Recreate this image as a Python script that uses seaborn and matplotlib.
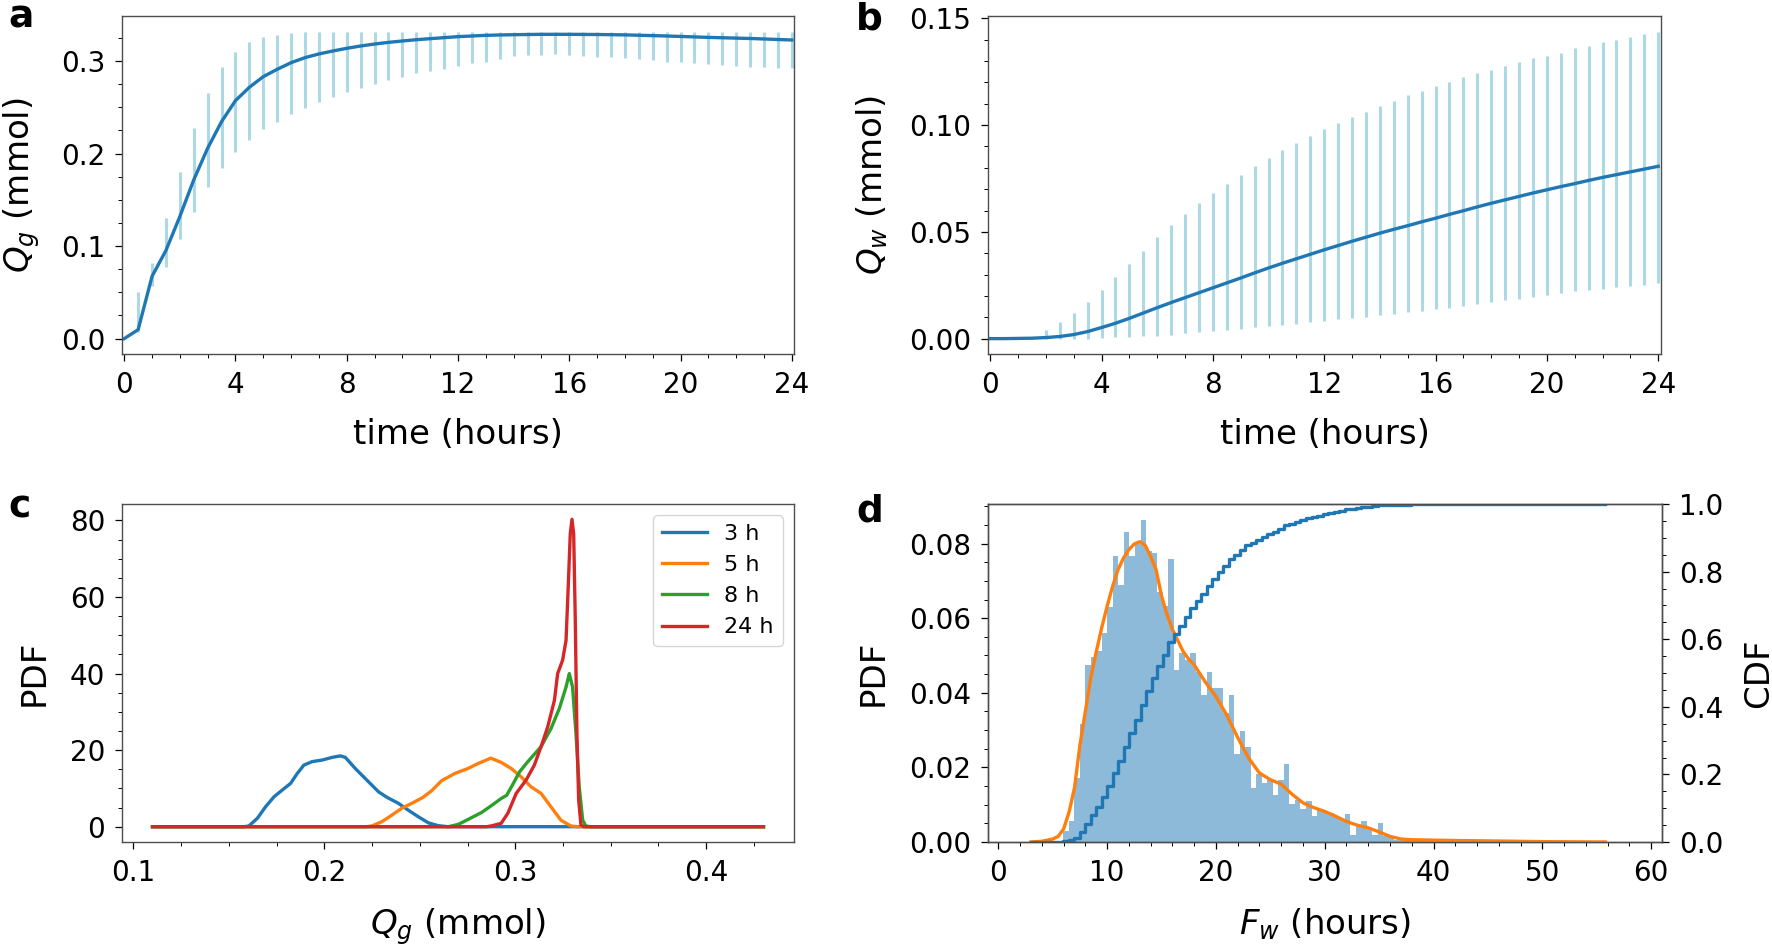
import numpy as np
import pandas as pd
import matplotlib
matplotlib.use("Agg")
import matplotlib.pyplot as plt
from matplotlib.ticker import MultipleLocator
import seaborn as sns

# ---------------- Panel a : Q_g vs time ----------------
time_a = [0, 0.5, 1, 1.5, 2, 2.5, 3, 3.5, 4, 4.5, 5, 5.5, 6, 6.5, 7, 7.5, 8, 8.5,
          9, 9.5, 10, 10.5, 11, 11.5, 12, 12.5, 13, 13.5, 14, 14.5, 15, 15.5, 16,
          16.5, 17, 17.5, 18, 18.5, 19, 19.5, 20, 20.5, 21, 21.5, 22, 22.5, 23,
          23.5, 24]
qg_mean = [0.0, 0.0097, 0.0673, 0.0953, 0.132, 0.1716, 0.2058, 0.2345, 0.2572,
           0.2716, 0.2831, 0.291, 0.2982, 0.3036, 0.3076, 0.3108, 0.3137, 0.3162,
           0.3183, 0.3201, 0.3216, 0.323, 0.3241, 0.3252, 0.3263, 0.327, 0.3277,
           0.3281, 0.3284, 0.3286, 0.3288, 0.3288, 0.3288, 0.3287, 0.3286, 0.3284,
           0.3282, 0.3278, 0.3274, 0.327, 0.3265, 0.326, 0.3255, 0.3251, 0.3247,
           0.3243, 0.3238, 0.3232, 0.3227]
err_time = time_a[1:]
qg_lo = [0.0068, 0.0565, 0.0773, 0.1076, 0.1367, 0.1633, 0.1845, 0.2018, 0.2151,
         0.2263, 0.2345, 0.2424, 0.2493, 0.2558, 0.2608, 0.2662, 0.2705, 0.2752,
         0.2795, 0.2831, 0.2867, 0.2892, 0.2917, 0.2946, 0.2975, 0.2993, 0.302,
         0.3055, 0.3063, 0.3066, 0.3075, 0.307, 0.3054, 0.3047, 0.304, 0.3029,
         0.3018, 0.3011, 0.2993, 0.2986, 0.2975, 0.2968, 0.2957, 0.295, 0.2939,
         0.2932, 0.2921, 0.2921]
qg_hi = [0.05, 0.0817, 0.1302, 0.1799, 0.228, 0.2658, 0.2932, 0.3097, 0.3201,
         0.3255, 0.3284, 0.3302, 0.3309, 0.331, 0.331, 0.331, 0.331, 0.331,
         0.331, 0.331, 0.3315, 0.3315, 0.3315, 0.3315, 0.3315, 0.3315, 0.3315,
         0.3315, 0.3315, 0.3315, 0.3315, 0.3315, 0.3315, 0.3315, 0.3315, 0.3315,
         0.331, 0.331, 0.331, 0.331, 0.331, 0.331, 0.331, 0.331, 0.331, 0.331,
         0.331, 0.331]

# ---------------- Panel b : Q_w vs time ----------------
qw_mean = [0.0, 0.0, 0.0001, 0.0002, 0.0005, 0.001, 0.0019, 0.0033, 0.0052, 0.0072,
           0.0095, 0.012, 0.0145, 0.0169, 0.0192, 0.0215, 0.0238, 0.0261, 0.0284,
           0.0308, 0.0331, 0.0353, 0.0374, 0.0395, 0.0416, 0.0436, 0.0456, 0.0475,
           0.0494, 0.0512, 0.0529, 0.0547, 0.0564, 0.0582, 0.0599, 0.0617, 0.0634,
           0.065, 0.0666, 0.0682, 0.0697, 0.0712, 0.0726, 0.0741, 0.0755, 0.0768,
           0.0781, 0.0794, 0.0807]
qw_lo = [0.0, 0.0, 0.0, 0.0, 0.0, 0.0, 0.0, 0.0003, 0.0006, 0.0008, 0.001, 0.0014,
         0.0019, 0.0027, 0.003, 0.0034, 0.0041, 0.0047, 0.0053, 0.0058, 0.0064,
         0.007, 0.0076, 0.0084, 0.009, 0.0097, 0.0103, 0.0109, 0.0115, 0.0123,
         0.0129, 0.0137, 0.0144, 0.0151, 0.0161, 0.017, 0.0179, 0.0187, 0.0195,
         0.0203, 0.0212, 0.0222, 0.0228, 0.0234, 0.024, 0.0246, 0.0253, 0.0261]
qw_hi = [0.0, 0.0002, 0.0005, 0.0042, 0.0078, 0.0119, 0.017, 0.0226, 0.0289,
         0.0351, 0.0412, 0.0474, 0.053, 0.0585, 0.0633, 0.068, 0.0725, 0.0768,
         0.081, 0.0846, 0.0883, 0.0917, 0.0947, 0.0981, 0.1009, 0.1036, 0.1061,
         0.1089, 0.1111, 0.1139, 0.1158, 0.1181, 0.12, 0.1223, 0.1242, 0.1259,
         0.1278, 0.1295, 0.1312, 0.1326, 0.134, 0.1359, 0.1371, 0.1387, 0.1399,
         0.1413, 0.1426, 0.1438]

# ---------------- Panel c : PDFs of Q_g at several times ----------------
pdf_labels = ["3 h", "5 h", "8 h", "24 h"]
pdf3_x = [0.11, 0.158, 0.1605, 0.1649, 0.1692, 0.1736, 0.178, 0.1823, 0.1858, 0.1893,
          0.1936, 0.1988, 0.204, 0.2084, 0.211, 0.2162, 0.2232, 0.2284, 0.2327,
          0.2388, 0.244, 0.2492, 0.2545, 0.2597, 0.2649, 0.43]
pdf3_y = [0, 0, 0.2, 2.2, 5.2, 7.8, 9.6, 11.3, 13.9, 16.1, 17.0, 17.4, 18.1, 18.5,
          18.1, 15.2, 11.7, 9.1, 7.7, 6.1, 4.3, 2.6, 1.0, 0.26, 0, 0]
pdf5_x = [0.11, 0.222, 0.2249, 0.2301, 0.2353, 0.2405, 0.2458, 0.2518, 0.2562, 0.2614,
          0.2683, 0.2752, 0.2805, 0.2872, 0.2926, 0.2979, 0.3031, 0.3083, 0.3135,
          0.3187, 0.3239, 0.3292, 0.3327, 0.43]
pdf5_y = [0, 0, 0.2, 1.3, 3.0, 4.8, 6.1, 7.7, 9.4, 12.0, 13.9, 15.2, 16.5, 17.9, 16.8,
          15.2, 13.0, 10.4, 8.7, 5.2, 1.7, 0.17, 0, 0]
pdf8_x = [0.11, 0.265, 0.2701, 0.2753, 0.2823, 0.2875, 0.2927, 0.2955, 0.2992, 0.3022,
          0.3066, 0.3135, 0.3187, 0.3231, 0.3266, 0.3283, 0.33, 0.3318, 0.3335,
          0.3353, 0.337, 0.3396, 0.43]
pdf8_y = [0, 0, 0.6, 1.9, 3.7, 5.5, 7.4, 8.2, 11.5, 14.3, 17.0, 20.9, 25.6, 30.9, 36.5,
          40.0, 36.5, 24.3, 10.4, 1.7, 0.17, 0, 0]
pdf24_x = [0.11, 0.285, 0.2874, 0.2926, 0.2961, 0.3005, 0.3057, 0.31, 0.3135, 0.317,
           0.3205, 0.3222, 0.3248, 0.3266, 0.3278, 0.3288, 0.3297, 0.3306, 0.3314,
           0.3323, 0.3332, 0.3344, 0.3361, 0.43]
pdf24_y = [0, 0, 0.2, 0.87, 3.5, 8.7, 12.2, 16.1, 20.9, 26.1, 33.0, 40.0, 43.5, 48.7,
           63.5, 76.5, 80.3, 76.5, 54.8, 24.3, 7.0, 0.4, 0, 0]

# ---------------- Panel d : F_w histogram, KDE and CDF ----------------
hist_bin_start = 5.97
hist_bin_width = 0.507
hist_heights = [0.003, 0.0057, 0.0172, 0.0315, 0.0475, 0.0495, 0.0511, 0.056, 0.0629,
                0.0766, 0.069, 0.0831, 0.0766, 0.080, 0.0862, 0.078, 0.0775, 0.067,
                0.0632, 0.0759, 0.0462, 0.0507, 0.0489, 0.0507, 0.0456, 0.0395,
                0.0456, 0.0413, 0.0413, 0.0346, 0.0395, 0.0236, 0.0297, 0.0255,
                0.0145, 0.0181, 0.0158, 0.0167, 0.0127, 0.0167, 0.021, 0.0101,
                0.0113, 0.0088, 0.0109, 0.0069, 0.0087, 0.0082, 0.0078, 0.0069,
                0.006, 0.0075, 0.002, 0.0046, 0.0055, 0.0038, 0.002, 0.0051, 0.0015,
                0.0015, 0.0006, 0.0005, 0.0004, 0.0006, 0.0004, 0.0005, 0.0003,
                0.0004, 0.0003, 0.0002, 0.0003, 0.0002]
cdf_start, cdf_end = 3.0, 55.8
kde_x = [3.0, 4.0, 5.0, 5.5, 6.0, 6.5, 7.0, 7.5, 8.0, 8.5, 9.0, 9.5, 10.0, 10.5, 11.0,
         11.5, 12.0, 12.5, 13.0, 13.5, 14.0, 14.5, 15.0, 15.5, 16.0, 16.5, 17.0,
         17.5, 18.0, 19.0, 20.0, 21.0, 22.0, 23.0, 24.0, 25.0, 26.0, 27.0, 28.0,
         29.0, 30.0, 31.0, 32.0, 33.0, 34.0, 35.0, 36.0, 37.0, 38.0, 40.0, 42.0,
         45.0, 50.0, 55.8]
kde_y = [0.0, 0.0002, 0.0008, 0.0015, 0.0035, 0.008, 0.0145, 0.026, 0.035, 0.044,
         0.051, 0.0574, 0.0632, 0.0685, 0.073, 0.0761, 0.0784, 0.0799, 0.0805,
         0.0795, 0.0765, 0.073, 0.066, 0.061, 0.057, 0.054, 0.051, 0.049, 0.0475,
         0.043, 0.039, 0.034, 0.028, 0.0225, 0.0185, 0.0167, 0.0155, 0.0128,
         0.0105, 0.0092, 0.0082, 0.0069, 0.0055, 0.0045, 0.0038, 0.0027, 0.0015,
         0.0008, 0.0006, 0.0005, 0.0004, 0.0003, 0.0001, 0.0]

# ---------------- figure ----------------
TICK = 20
LAB = 24.5
C0, C1, C2, C3 = "#1f77b4", "#ff7f0e", "#2ca02c", "#d62728"

fig = plt.figure(figsize=(17.72, 9.48), dpi=100)
W, H = 1772.0, 948.0


def add_ax(l, r, t, b):
    return fig.add_axes([l / W, 1 - b / H, (r - l) / W, (b - t) / H])


def style(ax):
    ax.tick_params(axis="both", which="both", labelsize=TICK, direction="out")
    ax.tick_params(axis="both", which="major", length=5, width=0.9, pad=7)
    ax.tick_params(axis="both", which="minor", length=2.8, width=0.7)
    for s in ax.spines.values():
        s.set_color("0.3")
        s.set_linewidth(1.0)


# Panel a
axa = add_ax(122, 794, 16, 354)
axa.vlines(err_time, qg_lo, qg_hi, colors="lightblue", linewidth=2.2, zorder=1)
sns.lineplot(x=time_a, y=qg_mean, ax=axa, color=C0, linewidth=2.4, zorder=2)
axa.set_xlim(-0.08, 24.08)
axa.set_ylim(-0.0166, 0.3486)
axa.xaxis.set_major_locator(MultipleLocator(4))
axa.xaxis.set_minor_locator(MultipleLocator(1))
axa.yaxis.set_major_locator(MultipleLocator(0.1))
axa.yaxis.set_minor_locator(MultipleLocator(0.025))
axa.set_xlabel("time (hours)", fontsize=LAB, labelpad=14)
axa.set_ylabel("$Q_g$ (mmol)", fontsize=LAB, labelpad=14)
style(axa)

# Panel b
axb = add_ax(988, 1661, 16, 354)
axb.vlines(err_time, qw_lo, qw_hi, colors="lightblue", linewidth=2.2, zorder=1)
sns.lineplot(x=time_a, y=qw_mean, ax=axb, color=C0, linewidth=2.4, zorder=2)
axb.set_xlim(-0.08, 24.1)
axb.set_ylim(-0.0072, 0.1511)
axb.xaxis.set_major_locator(MultipleLocator(4))
axb.xaxis.set_minor_locator(MultipleLocator(1))
axb.yaxis.set_major_locator(MultipleLocator(0.05))
axb.yaxis.set_minor_locator(MultipleLocator(0.01))
axb.set_xlabel("time (hours)", fontsize=LAB, labelpad=14)
axb.set_ylabel("$Q_w$ (mmol)", fontsize=LAB, labelpad=14)
style(axb)

# Panel c
axc = add_ax(122, 794, 504, 842)
for xs, ys, lab, col in zip([pdf3_x, pdf5_x, pdf8_x, pdf24_x],
                            [pdf3_y, pdf5_y, pdf8_y, pdf24_y],
                            pdf_labels, [C0, C1, C2, C3]):
    sns.lineplot(x=xs, y=ys, ax=axc, color=col, linewidth=2.4, label=lab,
                 sort=False, estimator=None)
axc.set_xlim(0.094, 0.446)
axc.set_ylim(-4.0, 84.3)
axc.xaxis.set_major_locator(MultipleLocator(0.1))
axc.xaxis.set_minor_locator(MultipleLocator(0.025))
axc.yaxis.set_major_locator(MultipleLocator(20))
axc.yaxis.set_minor_locator(MultipleLocator(5))
axc.set_xlabel("$Q_g$ (mmol)", fontsize=LAB, labelpad=14)
axc.set_ylabel("PDF", fontsize=LAB, labelpad=14)
axc.legend(loc="upper right", fontsize=16)
style(axc)

# Panel d
axd = add_ax(988, 1662, 504, 842)
n_bins = len(hist_heights)
edges = hist_bin_start + hist_bin_width * np.arange(n_bins + 1)
centers = (edges[:-1] + edges[1:]) / 2
hist_df = pd.DataFrame({"Fw": centers, "pdf": hist_heights})
sns.histplot(data=hist_df, x="Fw", weights="pdf", bins=list(edges), ax=axd,
             color=C0, alpha=0.5, linewidth=0, zorder=1)
sns.lineplot(x=kde_x, y=kde_y, ax=axd, color=C1, linewidth=2.4, zorder=3)
axd.set_xlim(-0.95, 61.0)
axd.set_ylim(0, 0.0906)
axd.xaxis.set_major_locator(MultipleLocator(10))
axd.xaxis.set_minor_locator(MultipleLocator(2))
axd.yaxis.set_major_locator(MultipleLocator(0.02))
axd.yaxis.set_minor_locator(MultipleLocator(0.005))
axd.set_xlabel("$F_w$ (hours)", fontsize=LAB, labelpad=14)
axd.set_ylabel("PDF", fontsize=LAB, labelpad=14)
style(axd)

axd2 = axd.twinx()
cum = np.cumsum(hist_heights) * hist_bin_width
cum = cum / cum[-1]
cdf_x = [cdf_start] + list(edges[:-1]) + [edges[-1], cdf_end]
cdf_y = [0.0] + list(cum) + [1.0, 1.0]
sns.lineplot(x=cdf_x, y=cdf_y, ax=axd2, color=C0, linewidth=2.4,
             drawstyle="steps-post", sort=False, estimator=None)
axd2.set_ylim(0, 1.0)
axd2.yaxis.set_major_locator(MultipleLocator(0.2))
axd2.yaxis.set_minor_locator(MultipleLocator(0.05))
axd2.set_ylabel("CDF", fontsize=LAB, labelpad=14)
style(axd2)

# panel letters
for txt, x, y in [("a", 8, 28), ("b", 856, 29), ("c", 8, 518), ("d", 856, 521)]:
    fig.text(x / W, 1 - y / H, txt, fontsize=27, fontweight="bold",
             ha="left", va="baseline")

fig.savefig("out.png", dpi=100)
